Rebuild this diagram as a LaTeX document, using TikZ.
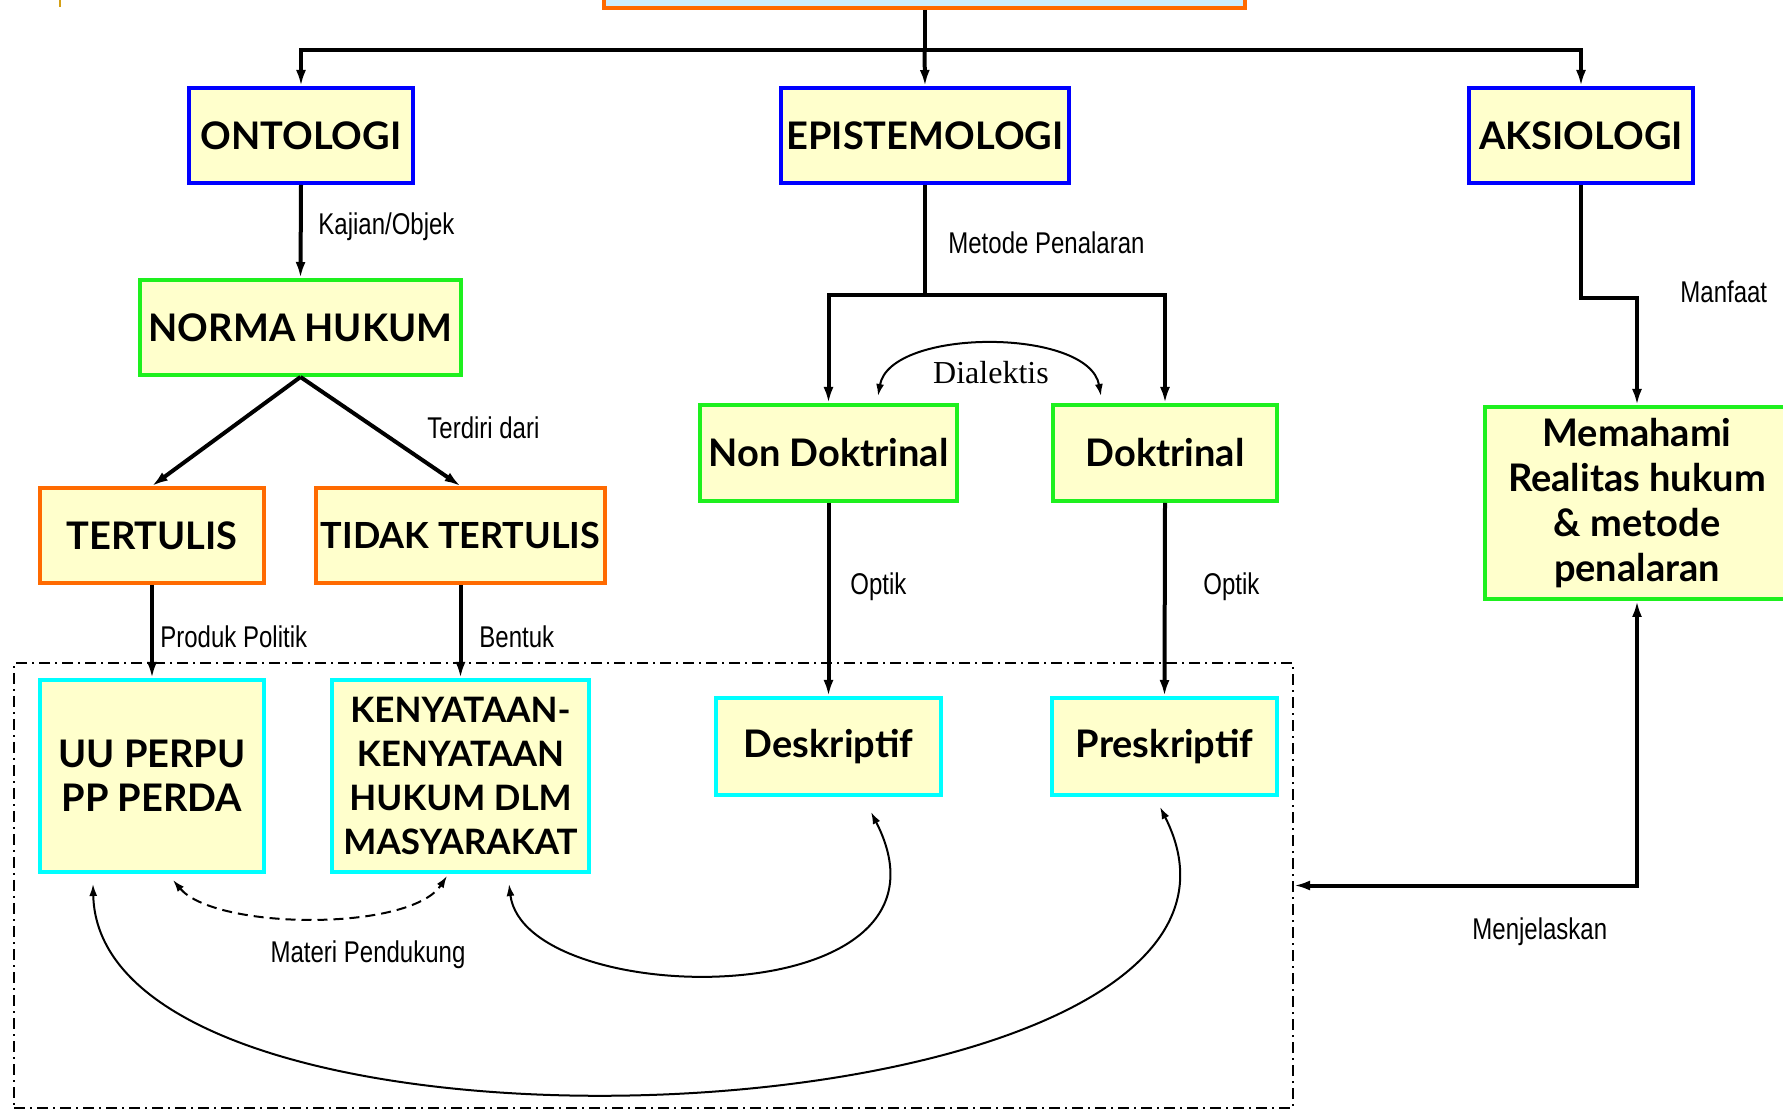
\documentclass[tikz,border=0pt]{standalone}
\usepackage{fontspec}
\setmainfont{Lato}
\newfontfamily\labelfont[FakeStretch=0.8]{Liberation Sans}
\newfontfamily\dialfont{Liberation Serif}
\usetikzlibrary{arrows.meta}
\definecolor{boxfill}{HTML}{FFFFCC}
\definecolor{rootfill}{HTML}{CCEEFF}
\definecolor{kblue}{HTML}{0000FF}
\definecolor{kgreen}{HTML}{1EF01E}
\definecolor{korange}{HTML}{FF6A00}
\definecolor{kcyan}{HTML}{00FFFF}
\definecolor{kgold}{HTML}{D4A017}

\begin{document}
\begin{tikzpicture}[x=0.5pt, y=0.5pt,
    >={Latex[length=8pt,width=5pt]},
    box/.style={draw, line width=2pt, fill=boxfill, align=center, inner sep=1pt,
      minimum height=47.5pt, font=\fontsize{19}{22}\selectfont\bfseries},
    link/.style={->, line width=2pt},
    lbl/.style={inner sep=0pt, anchor=west, font=\labelfont\fontsize{15}{18}\selectfont},
    bow/.style={line width=1pt, {Latex[length=6pt,width=4pt]}-{Latex[length=6pt,width=4pt]}}]
      \useasboundingbox (0,0) rectangle (1783,-1111);
      \clip (0,0) rectangle (1783,-1111);

      % Puncak
      \draw[kgold, line width=1pt] (60,0) -- (60,-7);
      \node[draw=korange, line width=2pt, fill=rootfill, minimum width=320.5pt, minimum height=40pt] (root) at (924.5,32) {};

      % Tiga cabang
      \node[box, draw=kblue, minimum width=112pt] (onto) at (301,-135.5) {ONTOLOGI};
      \node[box, draw=kblue, minimum width=144pt] (epis) at (925,-135.5) {EPISTEMOLOGI};
      \node[box, draw=kblue, minimum width=112pt] (aksi) at (1581,-135.5) {AKSIOLOGI};

      \draw[line width=2pt] (root.south) -- ++(0,-40) coordinate (hub);
      \draw[link] (hub) -| (onto.north);
      \draw[link] (hub) -- (epis.north);
      \draw[link] (hub) -| (aksi.north);

      % Ontologi
      \node[box, draw=kgreen, minimum width=160.5pt] (norma) at (300.5,-327.5) {NORMA HUKUM};
      \node[box, draw=korange, minimum width=112pt] (tulis) at (152,-535.5) {TERTULIS};
      \node[box, draw=korange, minimum width=144.5pt, font=\fontsize{18}{22}\selectfont\bfseries] (tidak) at (460.5,-535.5) {TIDAK TERTULIS};
      \node[box, draw=kcyan, minimum width=112pt, minimum height=96pt] (uu) at (152,-776) {UU PERPU\\PP PERDA};
      \node[box, draw=kcyan, minimum width=128.5pt, minimum height=96pt, font=\fontsize{17.5}{22}\selectfont\bfseries] (kny) at (460.5,-776) {KENYATAAN-\\KENYATAAN\\HUKUM DLM\\MASYARAKAT};

      \draw[link] (onto.south) -- (norma.north);
      \draw[link] (norma.south) -- (tulis.north);
      \draw[link] (norma.south) -- (tidak.north);
      \draw[link] (tulis.south) -- (uu.north);
      \draw[link] (tidak.south) -- (kny.north);

      \node[lbl] (kajian) at (318,-227) {Kajian/Objek};
      \node[lbl] (terdiri) at (427,-428) {Terdiri dari};
      \node[lbl] (produk) at (160,-637) {Produk Politik};
      \node[lbl] (bentuk) at (479,-637) {Bentuk};

      % Epistemologi
      \node[box, draw=kgreen, minimum width=128.5pt, minimum height=48pt] (nondok) at (828.5,-453) {Non Doktrinal};
      \node[box, draw=kgreen, minimum width=112pt, minimum height=48pt] (dok) at (1165,-453) {Doktrinal};
      \node[box, draw=kcyan, minimum width=112.5pt, minimum height=48.5pt] (desk) at (828.5,-746.5) {Deskriptif};
      \node[box, draw=kcyan, minimum width=112.5pt, minimum height=48.5pt] (pres) at (1164.5,-746.5) {Preskriptif};

      \draw[line width=2pt] (epis.south) -- ++(0,-110) coordinate (ep);
      \draw[link] (ep) -| (nondok.north);
      \draw[link] (ep) -| (dok.north);
      \draw[link] (nondok.south) -- (desk.north);
      \draw[link] (dok.south) -- (pres.north);
      \draw[bow] ([xshift=24.75pt, yshift=3.5pt]nondok.north) to[out=80, in=100, looseness=0.8] ([xshift=-32pt, yshift=3.5pt]dok.north);

      \node[lbl] (metode) at (948,-243) {Metode Penalaran};
      \node[font=\dialfont\fontsize{16}{18}\selectfont, inner sep=0pt] (dialektis) at (991,-373) {Dialektis};
      \node[lbl] (optik1) at (850,-587) {Optik};
      \node[lbl] (optik2) at (1203,-587) {Optik};

      % Aksiologi
      \node[box, draw=kgreen, minimum width=152pt, minimum height=96pt, font=\fontsize{19}{22.5}\selectfont\bfseries] (mem) at (1637,-503) {Memahami\\Realitas hukum\\\& metode\\penalaran};
      \draw[link] (aksi.south) -- ++(0,-113) -| (mem.north);
      \node[lbl] (manfaat) at (1680,-292) {Manfaat};

      % Kelompok
      \node[draw, line width=1pt, dash pattern=on 5.5pt off 2.5pt on 1pt off 2.5pt,
        minimum width=639.5pt, minimum height=222.5pt] (frame) at (653.5,-885.5) {};
      \draw[line width=2pt, <->] (frame.east) -| (mem.south);
      \node[lbl] (jelas) at (1472,-932) {Menjelaskan};

      % Hubungan
      \draw[bow, dashed, dash pattern=on 5pt off 3pt] ([xshift=10.5pt, yshift=-3pt]uu.south) .. controls +(42,-50) and +(-37,-56) .. ([xshift=-6.75pt, yshift=-1pt]kny.south);
      \node[font=\labelfont\fontsize{15}{18}\selectfont, inner sep=0pt] (materi) at (368,-955) {Materi Pendukung};
      \draw[bow] ([xshift=24.25pt, yshift=-5pt]kny.south) .. controls +(16,-128) and +(105,-205) .. ([xshift=21.25pt, yshift=-7.5pt]desk.south);
      \draw[bow] ([xshift=-29.5pt, yshift=-5pt]uu.south) .. controls +(7,-318) and +(170,-335) .. ([xshift=-2.25pt, yshift=-5pt]pres.south);
    \end{tikzpicture}
\end{document}
